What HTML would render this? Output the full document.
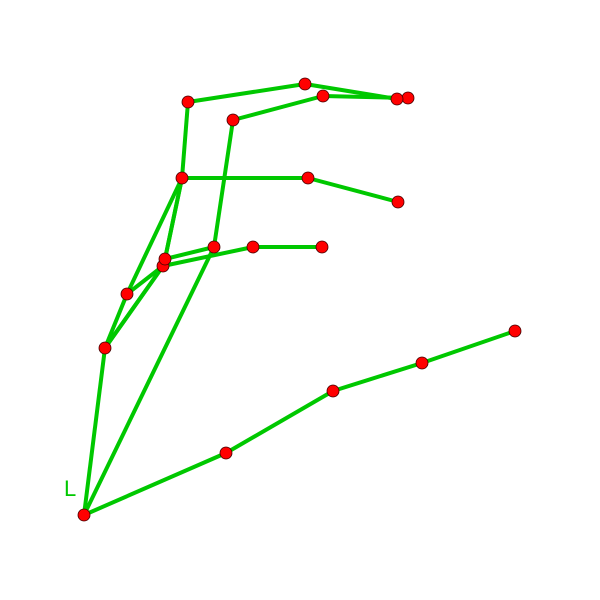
<!DOCTYPE html>
<html><head><meta charset="utf-8"><style>html,body{margin:0;background:#fff}svg{display:block}</style></head>
<body>
<svg id="c" width="600" height="600">
<text x="64" y="496" font-family="Liberation Sans, sans-serif" font-size="22" fill="#00c800">L</text>
<g id="lines"></g>
<g id="pts"></g>
</svg>
<script>
const xs=[84,226,333,422,515,214,233,323,408,105,127,182,308,398,163,253,322,165,188,305,397];
const ys=[515,453,391,363,331,247,120,96,98,348,294,178,178,202,266,247,247,259,102,84,99];
const edgesA=[0,1,2,3,0,5,6,7,0,9,9,10,11,12,9,14,14,15,5,17,11,11,18,19];
const edgesB=[1,2,3,4,5,6,7,8,9,10,14,11,12,13,14,15,10,16,17,11,17,18,19,20];
const NS='http://www.w3.org/2000/svg';
const L=document.getElementById('lines'),P=document.getElementById('pts');
for(let i=0;i<edgesA.length;i++){
 const l=document.createElementNS(NS,'line');
 l.setAttribute('x1',xs[edgesA[i]]);l.setAttribute('y1',ys[edgesA[i]]);
 l.setAttribute('x2',xs[edgesB[i]]);l.setAttribute('y2',ys[edgesB[i]]);
 l.setAttribute('stroke','#00c800');l.setAttribute('stroke-width','4');
 
 
 L.appendChild(l);
}
for(let i=0;i<xs.length;i++){
 const c=document.createElementNS(NS,'circle');
 c.setAttribute('cx',xs[i]);c.setAttribute('cy',ys[i]);c.setAttribute('r','6');
 c.setAttribute('fill','#ff0000');c.setAttribute('stroke','#400000');c.setAttribute('stroke-width','0.8');
 
 
 P.appendChild(c);
}
</script>
</body></html>
